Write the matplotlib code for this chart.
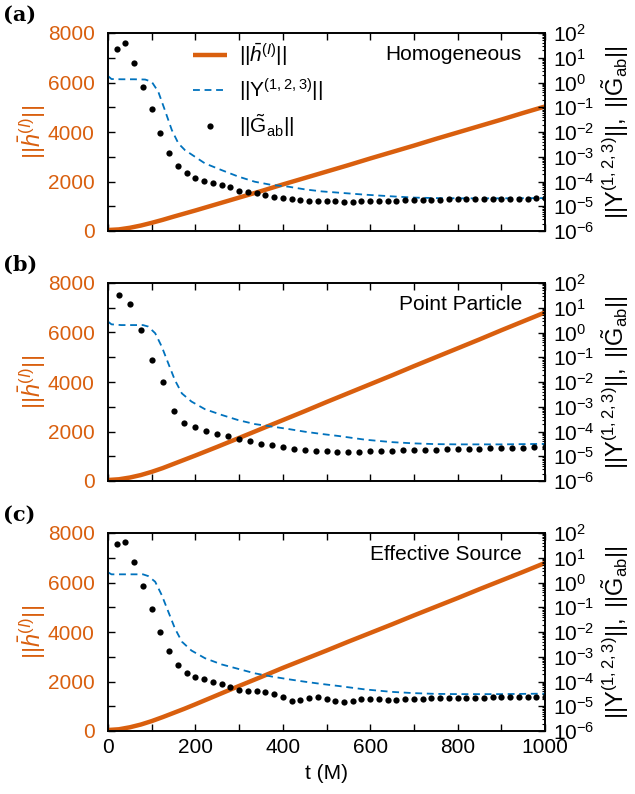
import numpy as np
import matplotlib
matplotlib.use("Agg")
import matplotlib.pyplot as plt
from matplotlib.ticker import MultipleLocator, LogLocator, NullFormatter, FuncFormatter

plt.rcParams['font.family'] = ['Liberation Sans', 'DejaVu Sans']
plt.rcParams['mathtext.fontset'] = 'custom'
plt.rcParams['mathtext.rm'] = 'Liberation Sans'
plt.rcParams['mathtext.it'] = 'Liberation Sans:italic'
plt.rcParams['mathtext.bf'] = 'Liberation Sans:bold'
plt.rcParams['mathtext.sf'] = 'Liberation Sans'

# ---------------- data ----------------
panel_titles = ["Homogeneous", "Point Particle", "Effective Source"]
panel_tags = ["(a)", "(b)", "(c)"]

# ||h^(I)|| (left axis)
t_h = [0, 25, 50, 75, 100, 125, 150, 175, 200, 250, 300, 350, 400, 450, 500,
       550, 600, 650, 700, 750, 800, 850, 900, 950, 1000]
h_a = [40, 65, 130, 220, 330, 450, 580, 705, 830, 1090, 1350, 1610, 1880, 2140, 2400,
       2660, 2930, 3190, 3450, 3720, 3980, 4240, 4500, 4770, 5030]
h_b = [40, 70, 140, 240, 370, 520, 690, 860, 1030, 1380, 1740, 2100, 2460, 2820, 3190,
       3550, 3910, 4270, 4640, 5000, 5360, 5720, 6090, 6450, 6810]
h_c = [40, 70, 150, 260, 400, 560, 730, 900, 1080, 1450, 1820, 2180, 2550, 2900, 3250,
       3610, 3960, 4310, 4670, 5020, 5370, 5730, 6080, 6430, 6790]

# log10 ||Y^(1,2,3)|| (right axis)
t_Y_a = [0, 8, 30, 60, 85, 100, 115, 130, 146, 161, 176, 199, 222, 260, 298, 336, 375,
         413, 451, 489, 527, 586, 650, 700, 750, 800, 900, 1000]
logY_a = [0.26, 0.14, 0.13, 0.13, 0.12, 0.03, -0.37, -1.11, -1.92, -2.46, -2.73, -3.00,
          -3.27, -3.54, -3.80, -4.01, -4.14, -4.21, -4.32, -4.40, -4.45, -4.53, -4.60,
          -4.65, -4.67, -4.68, -4.68, -4.67]
t_Y_b = [0, 8, 30, 60, 80, 92, 108, 123, 138, 153, 169, 191, 222, 260, 298, 336, 375,
         413, 451, 489, 527, 588, 650, 700, 750, 800, 900, 1000]
logY_b = [0.44, 0.33, 0.30, 0.30, 0.30, 0.24, -0.03, -0.57, -1.25, -1.92, -2.46, -2.79,
          -3.10, -3.33, -3.54, -3.70, -3.80, -3.90, -4.01, -4.10, -4.18, -4.33, -4.43,
          -4.48, -4.51, -4.52, -4.52, -4.50]
t_Y_c = [0, 8, 30, 60, 80, 92, 108, 123, 138, 153, 169, 191, 222, 260, 298, 336, 375,
         413, 451, 489, 527, 588, 650, 700, 750, 800, 900, 1000]
logY_c = [0.41, 0.33, 0.33, 0.33, 0.33, 0.26, 0.03, -0.51, -1.18, -1.85, -2.39, -2.75,
          -3.06, -3.31, -3.49, -3.67, -3.80, -3.91, -4.01, -4.10, -4.18, -4.32, -4.42,
          -4.47, -4.50, -4.51, -4.51, -4.49]

# log10 ||G_ab|| (right axis, dots)
t_G_a = list(range(20, 1001, 20))
logG_a = [1.35, 1.58, 0.77, -0.17, -1.08, -2.05, -2.84, -3.37, -3.67, -3.85,
          -3.97, -4.06, -4.15, -4.22, -4.37, -4.42, -4.48, -4.55, -4.61, -4.65,
          -4.71, -4.75, -4.77, -4.79, -4.80, -4.80, -4.81, -4.81, -4.80, -4.80,
          -4.79, -4.78, -4.77, -4.76, -4.75, -4.74, -4.74, -4.73, -4.72, -4.72,
          -4.71, -4.71, -4.70, -4.70, -4.70, -4.69, -4.69, -4.69, -4.68, -4.68]
t_G_b = list(range(25, 1001, 25))
logG_b = [1.53, 1.14, 0.09, -1.12, -1.99, -3.17, -3.67, -3.83, -3.98, -4.10,
          -4.20, -4.30, -4.40, -4.49, -4.56, -4.63, -4.69, -4.75, -4.77, -4.80,
          -4.81, -4.81, -4.81, -4.79, -4.78, -4.77, -4.76, -4.75, -4.74, -4.73,
          -4.72, -4.71, -4.70, -4.69, -4.68, -4.67, -4.66, -4.65, -4.64, -4.63]
t_G_c = list(range(20, 1001, 20))
logG_c = [1.56, 1.65, 0.81, -0.14, -1.07, -2.01, -2.78, -3.33, -3.66, -3.80,
          -3.90, -4.01, -4.11, -4.22, -4.34, -4.40, -4.40, -4.42, -4.51, -4.64,
          -4.80, -4.76, -4.66, -4.64, -4.69, -4.80, -4.84, -4.80, -4.72, -4.72,
          -4.72, -4.73, -4.73, -4.72, -4.71, -4.70, -4.68, -4.68, -4.67, -4.66,
          -4.66, -4.65, -4.65, -4.64, -4.64, -4.63, -4.63, -4.63, -4.62, -4.62]

h_sets = [h_a, h_b, h_c]
Y_sets = [(t_Y_a, logY_a), (t_Y_b, logY_b), (t_Y_c, logY_c)]
G_sets = [(t_G_a, logG_a), (t_G_b, logG_b), (t_G_c, logG_c)]

x_ticks_labeled = [0, 200, 400, 600, 800, 1000]
left_ticks_labeled = [0, 2000, 4000, 6000, 8000]

ORANGE = "#d95f0e"
BLUE = "#0072bd"
FS = 15

# ---------------- figure ----------------
W, H = 635, 794
fig = plt.figure(figsize=(W / 100, H / 100), dpi=100)

ax_left_px, ax_right_px = 108, 545
tops_px = [33, 283, 533]
ax_h_px = 198

h_label = r'$||\bar{h}^{(I)}||$'
Y_label = r'$||\mathrm{Y}^{(1,2,3)}||$'
G_label = r'$||\tilde{\mathrm{G}}_{\mathrm{ab}}||$'
right_label = r'$||\mathrm{Y}^{(1,2,3)}||,\ ||\tilde{\mathrm{G}}_{\mathrm{ab}}||$'

def sup_fmt(v, pos):
    e = int(round(np.log10(v)))
    return r'$10^{%d}$' % e

for i in range(3):
    top = tops_px[i]
    rect = [ax_left_px / W, 1 - (top + ax_h_px) / H,
            (ax_right_px - ax_left_px) / W, ax_h_px / H]
    ax = fig.add_axes(rect)
    ax2 = ax.twinx()

    l1, = ax.plot(t_h, h_sets[i], color=ORANGE, lw=3.2, solid_capstyle='butt',
                  label=h_label, zorder=2)
    tY, lY = Y_sets[i]
    l2, = ax2.plot(tY, 10.0 ** np.array(lY), color=BLUE, lw=1.3,
                   dashes=(3.8, 2.6), label=Y_label)
    tG, lG = G_sets[i]
    l3, = ax2.plot(tG, 10.0 ** np.array(lG), 'o', color='black', ms=4.5,
                   mec='none', label=G_label)

    ax.set_xlim(0, 1000)
    ax.set_ylim(0, 8000)
    ax2.set_yscale('log')
    ax2.set_ylim(1e-6, 1e2)

    # ticks
    ax.xaxis.set_major_locator(MultipleLocator(100))
    ax.yaxis.set_major_locator(MultipleLocator(1000))
    ax.tick_params(axis='x', which='both', direction='in', top=True, bottom=True,
                   length=5, width=1.0, labelsize=FS, pad=5)
    ax.tick_params(axis='y', which='both', direction='in', left=True, right=False,
                   length=5, width=1.0, labelsize=FS, labelcolor=ORANGE, pad=9.5)
    ax.yaxis.set_major_formatter(FuncFormatter(
        lambda v, p: ('%d' % v) if int(round(v)) in left_ticks_labeled else ''))
    if i == 2:
        ax.xaxis.set_major_formatter(FuncFormatter(
            lambda v, p: ('%d' % v) if int(round(v)) in x_ticks_labeled else ''))
        ax.set_xlabel('t (M)', fontsize=FS, labelpad=5)
    else:
        ax.xaxis.set_major_formatter(NullFormatter())

    ax2.yaxis.set_major_locator(LogLocator(base=10, numticks=20))
    ax2.yaxis.set_minor_locator(LogLocator(base=10, subs=np.arange(2, 10), numticks=20))
    ax2.yaxis.set_major_formatter(FuncFormatter(sup_fmt))
    ax2.yaxis.set_minor_formatter(NullFormatter())
    ax2.tick_params(axis='y', which='major', direction='in', length=5, width=1.0,
                    labelsize=FS, pad=6)
    ax2.tick_params(axis='y', which='minor', direction='in', length=2.5, width=0.8)

    for sp in ax.spines.values():
        sp.set_linewidth(1.2)
    for sp in ax2.spines.values():
        sp.set_linewidth(1.2)

    ax.set_ylabel(h_label, color=ORANGE, fontsize=17, labelpad=0)
    ax2.set_ylabel(right_label, fontsize=17, labelpad=3)

    ax2.text(0.947, 0.889, panel_titles[i], transform=ax2.transAxes, ha='right',
             va='center', fontsize=FS)

    fig.text(3 / W, 1 - (15 + 250 * i) / H, panel_tags[i], fontsize=15,
             fontweight='bold', family='DejaVu Serif', ha='left', va='center')

    if i == 0:
        leg = ax2.legend(handles=[l1, l2, l3], loc='upper left',
                         bbox_to_anchor=(0.195, 0.96), frameon=False, fontsize=FS,
                         handlelength=1.6, handletextpad=0.6, labelspacing=0.42,
                         borderpad=0, borderaxespad=0, numpoints=1)

fig.savefig('out.png', dpi=100)
